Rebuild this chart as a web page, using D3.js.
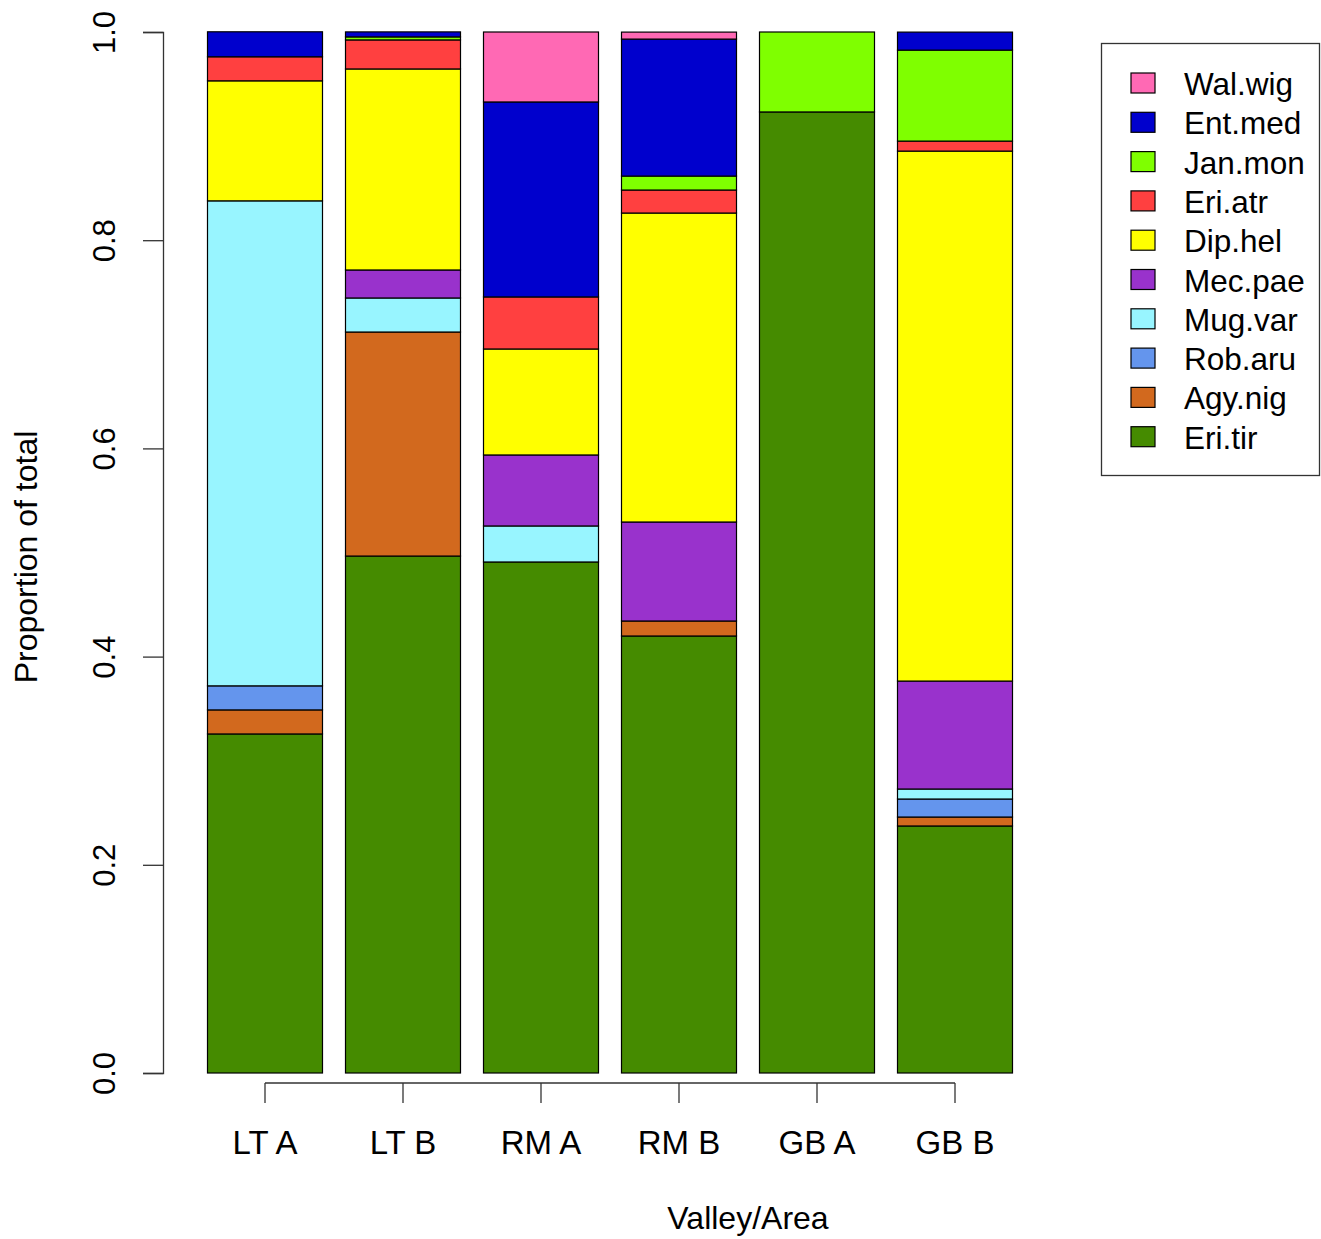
<!DOCTYPE html>
<html>
<head>
<meta charset="utf-8">
<script src="https://cdn.jsdelivr.net/npm/d3@7"></script>
<style>
  body { margin: 0; background: #fff; }
  svg text { font-family: "Liberation Sans", Arial, sans-serif; fill: #000; }
</style>
</head>
<body>
<div id="chart"></div>
<script>
// areas along the x axis
const areas = ["LT A", "LT B", "RM A", "RM B", "GB A", "GB B"];

// species, bottom of stack first
const species = ["Eri.tir", "Agy.nig", "Rob.aru", "Mug.var", "Mec.pae", "Dip.hel", "Eri.atr", "Jan.mon", "Ent.med", "Wal.wig"];
const colors = ["#458b00", "#d2691e", "#6495ed", "#98f5ff", "#9932cc", "#ffff00", "#ff4040", "#7fff00", "#0000cd", "#ff69b4"];

// proportions per area, one array per species (same order as areas)
const eriTir = [0.3257, 0.4966, 0.4909, 0.4198, 0.9232, 0.2373];
const agyNig = [0.0231, 0.2152, 0.0, 0.0144, 0.0, 0.0086];
const robAru = [0.0231, 0.0, 0.0, 0.0, 0.0, 0.0173];
const mugVar = [0.4659, 0.0327, 0.0346, 0.0, 0.0, 0.0096];
const mecPae = [0.0, 0.0269, 0.0682, 0.0951, 0.0, 0.1037];
const dipHel = [0.1153, 0.1931, 0.1018, 0.2968, 0.0, 0.5091];
const eriAtr = [0.0231, 0.0279, 0.0500, 0.0221, 0.0, 0.0096];
const janMon = [0.0, 0.0029, 0.0, 0.0134, 0.0768, 0.0874];
const entMed = [0.0240, 0.0048, 0.1873, 0.1316, 0.0, 0.0173];
const walWig = [0.0, 0.0, 0.0672, 0.0067, 0.0, 0.0];

const yTicks = [0, 0.2, 0.4, 0.6, 0.8, 1.0];

const seriesValues = [eriTir, agyNig, robAru, mugVar, mecPae, dipHel, eriAtr, janMon, entMed, walWig];

const table = areas.map((a, i) => {
  const row = { area: a };
  species.forEach((s, j) => (row[s] = seriesValues[j][i]));
  return row;
});

const W = 1321, H = 1239;
const svg = d3.select("#chart").append("svg").attr("width", W).attr("height", H);

const y = d3.scaleLinear().domain([0, 1]).range([1073, 32]);
const x = d3.scaleBand().domain(areas).range([196, 1024]).paddingInner(1 / 6).paddingOuter(1 / 12);

const stack = d3.stack().keys(species)(table);
const color = d3.scaleOrdinal().domain(species).range(colors);

svg.append("g")
  .selectAll("g")
  .data(stack)
  .join("g")
  .attr("fill", (d) => color(d.key))
  .selectAll("rect")
  .data((d) => d.filter((p) => p[1] - p[0] > 0))
  .join("rect")
  .attr("x", (d) => x(d.data.area))
  .attr("width", x.bandwidth())
  .attr("y", (d) => y(d[1]))
  .attr("height", (d) => y(d[0]) - y(d[1]))
  .attr("stroke", "#000")
  .attr("stroke-width", 1.2);

// y axis
const yAxis = svg.append("g")
  .attr("transform", "translate(163,0)")
  .call(d3.axisLeft(y).tickValues(yTicks).tickSize(20).tickFormat(d3.format(".1f")));
yAxis.select(".domain").attr("stroke", "#333").attr("stroke-width", 1.3);
yAxis.selectAll(".tick line").attr("stroke", "#333").attr("stroke-width", 1.3);
yAxis.selectAll(".tick text")
  .attr("font-size", 31)
  .attr("text-anchor", "middle")
  .attr("x", 0).attr("y", 0).attr("dy", 0)
  .attr("transform", "translate(-48,0) rotate(-90)");

// x axis
const xAxis = svg.append("g")
  .attr("transform", "translate(0,1083)")
  .call(d3.axisBottom(x).tickSize(20).tickSizeOuter(0));
xAxis.select(".domain")
  .attr("d", `M${x(areas[0]) + x.bandwidth() / 2},0H${x(areas[areas.length - 1]) + x.bandwidth() / 2}`)
  .attr("stroke", "#333").attr("stroke-width", 1.3);
xAxis.selectAll(".tick line").attr("stroke", "#333").attr("stroke-width", 1.3);
xAxis.selectAll(".tick text").attr("font-size", 33).attr("y", 71).attr("dy", 0);

// axis titles
svg.append("text")
  .attr("x", 748).attr("y", 1229)
  .attr("text-anchor", "middle").attr("font-size", 32)
  .text("Valley/Area");
svg.append("text")
  .attr("transform", "translate(37,557) rotate(-90)")
  .attr("text-anchor", "middle").attr("font-size", 32)
  .text("Proportion of total");

// legend, top entry first
const legend = svg.append("g");
legend.append("rect")
  .attr("x", 1101.5).attr("y", 43.5).attr("width", 218).attr("height", 432)
  .attr("fill", "#fff").attr("stroke", "#333").attr("stroke-width", 1.3);
const legendKeys = species.slice().reverse();
const rows = legend.selectAll("g.row")
  .data(legendKeys)
  .join("g")
  .attr("class", "row")
  .attr("transform", (d, i) => `translate(0,${83 + i * 39.3})`);
rows.append("rect")
  .attr("x", 1131).attr("y", -10).attr("width", 24).attr("height", 20)
  .attr("fill", (d) => color(d)).attr("stroke", "#000").attr("stroke-width", 1.2);
rows.append("text")
  .attr("x", 1184).attr("y", 12)
  .attr("font-size", 31.5)
  .text((d) => d);
</script>
</body>
</html>
